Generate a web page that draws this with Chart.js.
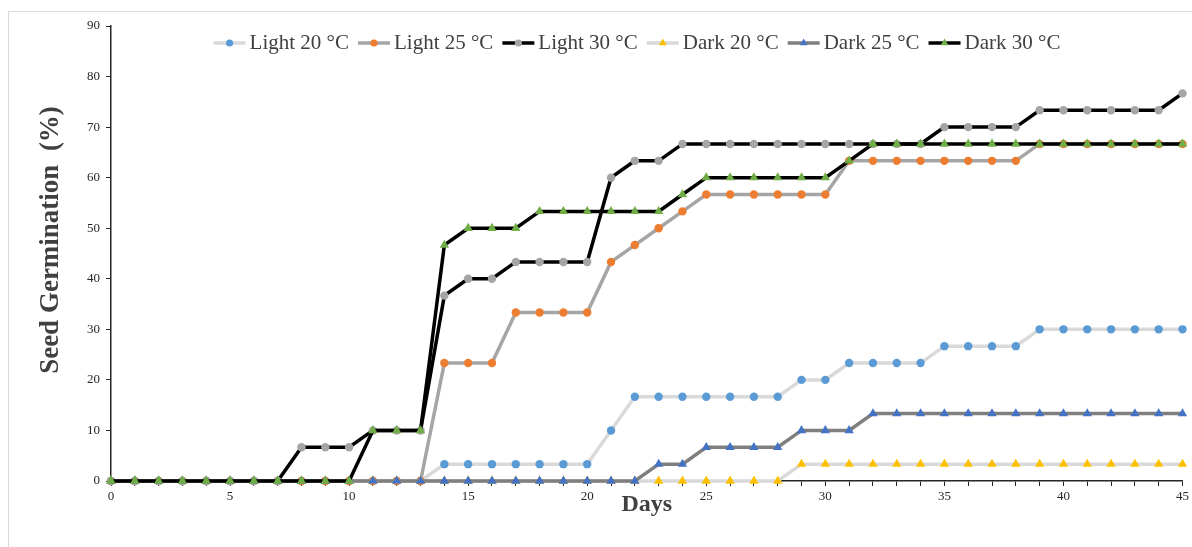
<!DOCTYPE html>
<html>
<head>
<meta charset="utf-8">
<script src="https://cdn.jsdelivr.net/npm/chart.js@4.4.0/dist/chart.umd.min.js"></script>
<style>
    html, body { margin: 0; padding: 0; background: #fff; overflow: hidden; }
    #wrap { position: relative; width: 1192px; height: 547px; }
    #frame { position: absolute; left: 8px; top: 11px; width: 1200px; height: 600px; border: 1px solid #d9d9d9; }
    canvas { position: absolute; left: 0; top: 0; }
</style>
</head>
<body>
<div id="wrap">
    <div id="frame"></div>
    <canvas id="LineChart1" width="1192" height="547"></canvas>
</div>
<script>
// days after sowing
const days = [0, 1, 2, 3, 4, 5, 6, 7, 8, 9, 10, 11, 12, 13, 14, 15, 16, 17, 18, 19, 20, 21, 22,
    23, 24, 25, 26, 27, 28, 29, 30, 31, 32, 33, 34, 35, 36, 37, 38, 39, 40, 41, 42, 43, 44, 45];

// germination (%) per treatment
const light20 = [0, 0, 0, 0, 0, 0, 0, 0, 0, 0, 0, 0, 0, 0, 3.33, 3.33, 3.33, 3.33, 3.33, 3.33, 3.33, 10, 16.67,
    16.67, 16.67, 16.67, 16.67, 16.67, 16.67, 20, 20, 23.33, 23.33, 23.33, 23.33, 26.67, 26.67, 26.67, 26.67, 30, 30, 30, 30, 30, 30, 30];
const light25 = [0, 0, 0, 0, 0, 0, 0, 0, 0, 0, 0, 0, 0, 0, 23.33, 23.33, 23.33, 33.33, 33.33, 33.33, 33.33, 43.33, 46.67,
    50, 53.33, 56.67, 56.67, 56.67, 56.67, 56.67, 56.67, 63.33, 63.33, 63.33, 63.33, 63.33, 63.33, 63.33, 63.33, 66.67, 66.67, 66.67, 66.67, 66.67, 66.67, 66.67];
const light30 = [0, 0, 0, 0, 0, 0, 0, 0, 6.67, 6.67, 6.67, 10, 10, 10, 36.67, 40, 40, 43.33, 43.33, 43.33, 43.33, 60, 63.33,
    63.33, 66.67, 66.67, 66.67, 66.67, 66.67, 66.67, 66.67, 66.67, 66.67, 66.67, 66.67, 70, 70, 70, 70, 73.33, 73.33, 73.33, 73.33, 73.33, 73.33, 76.67];
const dark20 = [0, 0, 0, 0, 0, 0, 0, 0, 0, 0, 0, 0, 0, 0, 0, 0, 0, 0, 0, 0, 0, 0, 0,
    0, 0, 0, 0, 0, 0, 3.33, 3.33, 3.33, 3.33, 3.33, 3.33, 3.33, 3.33, 3.33, 3.33, 3.33, 3.33, 3.33, 3.33, 3.33, 3.33, 3.33];
const dark25 = [0, 0, 0, 0, 0, 0, 0, 0, 0, 0, 0, 0, 0, 0, 0, 0, 0, 0, 0, 0, 0, 0, 0,
    3.33, 3.33, 6.67, 6.67, 6.67, 6.67, 10, 10, 10, 13.33, 13.33, 13.33, 13.33, 13.33, 13.33, 13.33, 13.33, 13.33, 13.33, 13.33, 13.33, 13.33, 13.33];
const dark30 = [0, 0, 0, 0, 0, 0, 0, 0, 0, 0, 0, 10, 10, 10, 46.67, 50, 50, 50, 53.33, 53.33, 53.33, 53.33, 53.33,
    53.33, 56.67, 60, 60, 60, 60, 60, 60, 63.33, 66.67, 66.67, 66.67, 66.67, 66.67, 66.67, 66.67, 66.67, 66.67, 66.67, 66.67, 66.67, 66.67, 66.67];

const serif = '"Liberation Serif", "Times New Roman", serif';

// helper for one series
const series = (label, data, line, marker, style, order) => ({
    label: label,
    data: data,
    borderColor: line,
    borderWidth: 3.5,
    pointStyle: style,
    pointRadius: style === 'triangle' ? 5.4 : 4.2,
    pointBackgroundColor: marker,
    pointBorderColor: marker,
    pointBorderWidth: 0,
    pointHoverRadius: 5,
    tension: 0,
    clip: false,
    order: order
});

// draw a marker by hand for the legend
function marker(ctx, style, r, x, y) {
    ctx.beginPath();
    if (style === 'triangle') {
        ctx.moveTo(x, y - r);
        ctx.lineTo(x + r * 0.866, y + r * 0.5);
        ctx.lineTo(x - r * 0.866, y + r * 0.5);
        ctx.closePath();
    } else {
        ctx.arc(x, y, r, 0, Math.PI * 2);
    }
    ctx.fill();
}

// legend sitting inside the plot, top centre
const topLegend = {
    id: 'topLegend',
    afterDraw(chart) {
        const ctx = chart.ctx;
        const sets = chart.data.datasets;
        const lineLen = 32, gap = 4, itemGap = 9, y = 43;
        ctx.save();
        ctx.font = '21px ' + serif;
        ctx.textBaseline = 'middle';
        const widths = sets.map(ds => lineLen + gap + ctx.measureText(ds.label).width);
        const total = widths.reduce((a, b) => a + b, 0) + itemGap * (sets.length - 1);
        let x = 637 - total / 2;
        sets.forEach((ds, i) => {
            ctx.strokeStyle = ds.borderColor;
            ctx.lineWidth = ds.borderWidth;
            ctx.beginPath();
            ctx.moveTo(x, y);
            ctx.lineTo(x + lineLen, y);
            ctx.stroke();
            ctx.fillStyle = ds.pointBackgroundColor;
            marker(ctx, ds.pointStyle, ds.pointStyle === 'triangle' ? 4.5 : 3.6, x + lineLen / 2, y);
            ctx.fillStyle = '#404040';
            ctx.fillText(ds.label, x + lineLen + gap, y);
            x += widths[i] + itemGap;
        });
        ctx.restore();
    }
};

const ctx1 = document.getElementById('LineChart1');
const LineChart1 = new Chart(ctx1, {
    type: 'line',
    data: {
        labels: days,
        datasets: [
            series('Light 20 °C', light20, '#d9d9d9', '#5b9bd5', 'circle', 6),
            series('Light 25 °C', light25, '#a5a5a5', '#ed7d31', 'circle', 5),
            series('Light 30 °C', light30, '#000000', '#a5a5a5', 'circle', 4),
            series('Dark 20 °C', dark20, '#d9d9d9', '#ffc000', 'triangle', 3),
            series('Dark 25 °C', dark25, '#7f7f7f', '#4472c4', 'triangle', 2),
            series('Dark 30 °C', dark30, '#000000', '#70ad47', 'triangle', 1)
        ]
    },
    options: {
        responsive: false,
        animation: false,
        devicePixelRatio: 1,
        layout: {
            padding: {top: 26, right: 9, bottom: 0, left: 0}
        },
        plugins: {
            legend: {display: false},
            tooltip: {enabled: false}
        },
        scales: {
            x: {
                type: 'category',
                offset: false,
                grid: {display: true, drawOnChartArea: false, drawTicks: true, tickLength: 5, color: '#262626'},
                border: {display: true, color: '#262626', width: 1.5},
                ticks: {
                    autoSkip: false,
                    maxRotation: 0,
                    padding: 3,
                    color: '#262626',
                    font: {family: serif, size: 13},
                    callback: (v, i) => days[i] % 5 === 0 ? days[i] : ''
                },
                title: {
                    display: true,
                    text: 'Days',
                    color: '#404040',
                    font: {family: serif, size: 24, weight: 'bold'},
                    padding: {top: 0, bottom: 28}
                },
                afterFit: s => { s.height = 66; }
            },
            y: {
                min: 0,
                max: 90,
                grid: {display: true, drawOnChartArea: false, drawTicks: true, tickLength: 5, color: '#262626'},
                border: {display: true, color: '#262626', width: 1.5},
                ticks: {
                    stepSize: 10,
                    padding: 6,
                    color: '#262626',
                    font: {family: serif, size: 13}
                },
                title: {
                    display: true,
                    // leading spaces nudge the rotated title up a little
                    text: '    Seed Germination  (%)',
                    color: '#404040',
                    font: {family: serif, size: 27, weight: 'bold'},
                    padding: {top: 35, bottom: 0}
                },
                afterFit: s => { s.width = 111; }
            }
        }
    },
    plugins: [topLegend]
});
</script>
</body>
</html>
